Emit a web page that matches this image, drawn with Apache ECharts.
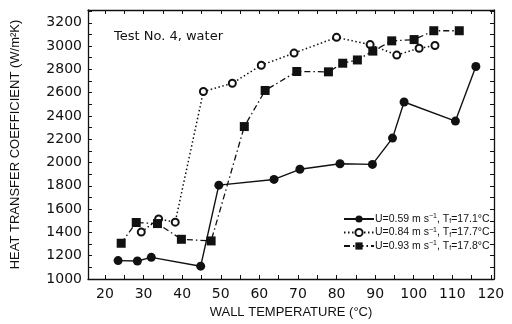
<!DOCTYPE html>
<html>
<head>
<meta charset="utf-8">
<script src="https://cdn.jsdelivr.net/npm/echarts@6/dist/echarts.min.js"></script>
<style>
  html, body { margin: 0; padding: 0; background: #fff; }
  #chart { width: 512px; height: 324px; }
</style>
</head>
<body>
<div id="chart"></div>
<script>
// wall temperature (°C) and heat transfer coefficient (W/m2K)
const tempA = [23.4, 28.4, 32.0, 44.8, 49.5, 63.8, 70.5, 80.9, 89.3, 94.5, 97.5, 110.8, 116.1]
const hA = [1158, 1155, 1186, 1110, 1806, 1855, 1942, 1990, 1984, 2210, 2520, 2356, 2825]

const tempB = [29.4, 33.9, 38.2, 45.5, 53.0, 60.5, 69.0, 80.0, 88.7, 95.6, 101.4, 105.5]
const hB = [1403, 1516, 1488, 2610, 2681, 2836, 2940, 3075, 3013, 2923, 2982, 3005]

const tempC = [24.2, 28.1, 33.6, 39.8, 47.5, 56.1, 61.5, 69.7, 77.9, 81.6, 85.4, 89.4, 94.3, 100.1, 105.2, 111.8]
const hC = [1307, 1485, 1476, 1341, 1327, 2309, 2619, 2782, 2779, 2853, 2881, 2957, 3045, 3056, 3132, 3132]

const seriesNames = [
  'U=0.59 m s{sup|−1}, T{sub|f}=17.1°C',
  'U=0.84 m s{sup|−1}, T{sub|f}=17.7°C',
  'U=0.93 m s{sup|−1}, T{sub|f}=17.8°C'
]

const xLabels = [20, 30, 40, 50, 60, 70, 80, 90, 100, 110, 120]
const xTicks = [20, 25, 30, 35, 40, 45, 50, 55, 60, 65, 70, 75, 80, 85, 90, 95, 100, 105, 110, 115, 120]
const yLabels = [1000, 1200, 1400, 1600, 1800, 2000, 2200, 2400, 2600, 2800, 3000, 3200]
const yTicks = [1000, 1100, 1200, 1300, 1400, 1500, 1600, 1700, 1800, 1900, 2000, 2100, 2200, 2300, 2400, 2500, 2600, 2700, 2800, 2900, 3000, 3100, 3200, 3300]

const zip = (xs, ys) => xs.map((x, i) => [x, ys[i]])

const chart = echarts.init(document.getElementById('chart'))

const tickFont = { fontFamily: 'DejaVu Sans', fontSize: 14, color: '#111' }
const frameLine = { show: true, lineStyle: { color: '#111', width: 1.3 } }
const nameFont = { fontFamily: 'Liberation Sans', fontSize: 13, color: '#111' }

chart.setOption({
  animation: false,
  backgroundColor: '#fff',
  grid: { left: 88, right: 18, top: 10, bottom: 41 },
  title: {
    text: 'Test No. 4, water',
    left: 109,
    top: 25,
    textStyle: { fontFamily: 'DejaVu Sans', fontSize: 13, fontWeight: 'normal', color: '#111' }
  },
  legend: {
    orient: 'vertical',
    left: 343,
    top: 213,
    padding: 0,
    itemWidth: 30,
    itemHeight: 9,
    itemGap: 1.5,
    textStyle: {
      fontFamily: 'Liberation Sans',
      fontSize: 10.5,
      color: '#111',
      padding: [0, 0, 0, -4],
      rich: {
        sup: { fontSize: 7, verticalAlign: 'top', lineHeight: 12, fontFamily: 'Liberation Sans', color: '#111', padding: [0, 0, 5, 0] },
        sub: { fontSize: 7, verticalAlign: 'bottom', lineHeight: 12, fontFamily: 'Liberation Sans', color: '#111', padding: [5, 0, 0, 0] }
      }
    },
    data: seriesNames
  },
  xAxis: [{
    type: 'value',
    min: 15.6,
    max: 120.8,
    name: 'WALL TEMPERATURE (°C)',
    nameLocation: 'middle',
    nameGap: 27,
    nameTextStyle: nameFont,
    axisLine: frameLine,
    axisTick: { inside: true, length: 4, customValues: xTicks, lineStyle: { color: '#111' } },
    axisLabel: { customValues: xLabels, margin: 8, ...tickFont },
    splitLine: { show: false }
  }, {
    type: 'value',
    position: 'top',
    min: 15.6,
    max: 120.8,
    axisLine: frameLine,
    axisTick: { inside: true, length: 4, customValues: xTicks, lineStyle: { color: '#111' } },
    axisLabel: { show: false },
    splitLine: { show: false }
  }],
  yAxis: [{
    type: 'value',
    min: 1000,
    max: 3310,
    name: 'HEAT TRANSFER COEFFICIENT (W/m²K)',
    nameLocation: 'middle',
    nameGap: 66,
    nameTextStyle: nameFont,
    axisLine: frameLine,
    axisTick: { inside: true, length: 4, customValues: yTicks, lineStyle: { color: '#111' } },
    axisLabel: { customValues: yLabels, margin: 6, formatter: v => String(v), ...tickFont },
    splitLine: { show: false }
  }, {
    type: 'value',
    position: 'right',
    min: 1000,
    max: 3310,
    axisLine: frameLine,
    axisTick: { inside: true, length: 4, customValues: yTicks, lineStyle: { color: '#111' } },
    axisLabel: { show: false },
    splitLine: { show: false }
  }],
  series: [{
    name: seriesNames[0],
    type: 'line',
    data: zip(tempA, hA),
    symbol: 'circle',
    symbolSize: 9,
    itemStyle: { color: '#111' },
    lineStyle: { color: '#111', width: 1.4 }
  }, {
    name: seriesNames[1],
    type: 'line',
    data: zip(tempB, hB),
    symbol: 'emptyCircle',
    symbolSize: 7,
    itemStyle: { color: '#111', borderWidth: 1.4 },
    lineStyle: { color: '#111', width: 1.5, type: [1.5, 2.5] }
  }, {
    name: seriesNames[2],
    type: 'line',
    data: zip(tempC, hC),
    symbol: 'rect',
    symbolSize: 9,
    itemStyle: { color: '#111' },
    lineStyle: { color: '#111', width: 1.3, type: [6, 3, 1.5, 3] }
  }]
})
</script>
</body>
</html>
